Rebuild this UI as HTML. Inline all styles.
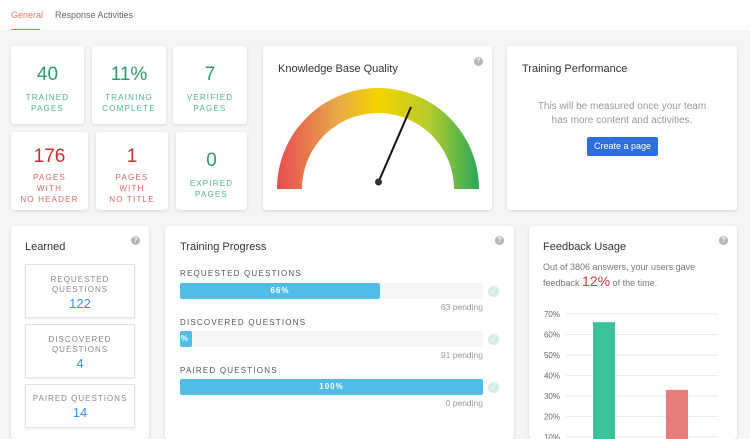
<!DOCTYPE html>
<html><head><meta charset="utf-8">
<style>
*{box-sizing:border-box;margin:0;padding:0}
html,body{width:750px;height:439px;overflow:hidden}
body{background:#f4f5f5;font-family:"Liberation Sans",sans-serif;position:relative}
.abs{position:absolute}
.card{position:absolute;background:#fff;border-radius:3px;box-shadow:0 1px 3px rgba(0,0,0,.12)}
.stat{text-align:center}
.num{font-size:19px;margin-top:18px}
.lbl{font-size:8px;letter-spacing:1.2px;line-height:11px;margin-top:6px}
.g{color:#2a9d6f}.r{color:#cc2e2e}.rl{color:#d96a6a}.gl{color:#4bb58e}
.title{font-size:11px;color:#333}
.help{position:absolute;width:9px;height:9px;border-radius:50%;background:#b5b5b5;color:#fff;font-size:7px;text-align:center;line-height:9px;font-weight:bold}
.qbox{position:absolute;left:14px;width:110px;border:1px solid #e3e3e3;box-shadow:0 1px 2px rgba(0,0,0,.08);text-align:center;font-size:8px;letter-spacing:1px;color:#888;line-height:10px}
.qbox b{display:block;font-weight:normal;color:#3a8ee6;font-size:13px;letter-spacing:0;margin-top:4px}
.plabel{position:absolute;left:15px;font-size:8px;letter-spacing:1.2px;color:#555}
.track{position:absolute;left:15px;width:303px;height:16px;background:#f4f5f5;border-radius:2px}
.fill{height:16px;background:#4fbde6;border-radius:2px;color:#fff;font-size:8px;font-weight:bold;text-align:center;line-height:16px;letter-spacing:1px;overflow:hidden}
.pend{position:absolute;right:31px;font-size:8.5px;color:#999}
.chk{position:absolute;left:323px;width:11px;height:11px;border-radius:50%;background:#d3efe4;color:#fff;font-size:8px;text-align:center;line-height:11px}
</style></head><body>
<div class="abs" style="left:0;top:0;width:750px;height:30px;background:#fff"></div>
<div class="abs" style="left:11px;top:10px;font-size:9px;color:#f07a60">General</div>
<div class="abs" style="left:11px;top:29px;width:29px;height:1px;background:#f07a60"></div>
<div class="abs" style="left:55px;top:10px;font-size:9px;color:#666">Response Activities</div>

<div class="card stat" style="left:11px;top:46px;width:73px;height:78px"><div class="num g">40</div><div class="lbl gl">TRAINED<br>PAGES</div></div>
<div class="card stat" style="left:92px;top:46px;width:74px;height:78px"><div class="num g">11%</div><div class="lbl gl">TRAINING<br>COMPLETE</div></div>
<div class="card stat" style="left:173px;top:46px;width:74px;height:78px"><div class="num g">7</div><div class="lbl gl">VERIFIED<br>PAGES</div></div>
<div class="card stat" style="left:11px;top:132px;width:77px;height:78px"><div class="num r" style="margin-top:14px">176</div><div class="lbl rl" style="margin-top:4px">PAGES<br>WITH<br>NO HEADER</div></div>
<div class="card stat" style="left:96px;top:132px;width:72px;height:78px"><div class="num r" style="margin-top:14px">1</div><div class="lbl rl" style="margin-top:4px">PAGES<br>WITH<br>NO TITLE</div></div>
<div class="card stat" style="left:176px;top:132px;width:71px;height:78px"><div class="num g">0</div><div class="lbl gl">EXPIRED<br>PAGES</div></div>

<div class="card" style="left:263px;top:46px;width:229px;height:164px">
<div class="title abs" style="left:15px;top:17px">Knowledge Base Quality</div>
<div class="help" style="left:211px;top:11px">?</div>
<svg class="abs" style="left:0;top:0" width="229" height="164">
<defs><linearGradient id="gg" x1="0" x2="1" y1="0" y2="0"><stop offset="0" stop-color="#e84c50"/><stop offset=".3" stop-color="#e8a84a"/><stop offset=".5" stop-color="#f5d400"/><stop offset=".75" stop-color="#b8cc2a"/><stop offset="1" stop-color="#27a85a"/></linearGradient></defs>
<path d="M14,143 A101,101 0 0 1 216,143 L191,143 A76,76 0 0 0 39,143 Z" fill="url(#gg)"/>
<line x1="115.5" y1="136" x2="148" y2="61" stroke="#111" stroke-width="2"/>
<circle cx="115.5" cy="136" r="3.5" fill="#333"/>
</svg></div>

<div class="card" style="left:507px;top:46px;width:230px;height:164px">
<div class="title abs" style="left:15px;top:17px">Training Performance</div>
<div class="abs" style="left:0;width:230px;top:54px;text-align:center;font-size:10px;color:#999;line-height:14px">This will be measured once your team<br>has more content and activities.</div>
<div class="abs" style="left:80px;top:91px;width:71px;height:19px;background:#2d6fdc;border-radius:2px;color:#fff;font-size:9px;text-align:center;line-height:19px">Create a page</div>
</div>

<div class="card" style="left:11px;top:226px;width:138px;height:213px">
<div class="title abs" style="left:14px;top:15px">Learned</div>
<div class="help" style="left:120px;top:10px">?</div>
<div class="qbox" style="top:38px;height:54px;padding-top:10px">REQUESTED<br>QUESTIONS<b>122</b></div>
<div class="qbox" style="top:98px;height:54px;padding-top:10px">DISCOVERED<br>QUESTIONS<b>4</b></div>
<div class="qbox" style="top:158px;height:44px;padding-top:9px">PAIRED QUESTIONS<b>14</b></div>
</div>

<div class="card" style="left:165px;top:226px;width:349px;height:213px">
<div class="title abs" style="left:15px;top:15px">Training Progress</div>
<div class="help" style="left:330px;top:10px">?</div>
<div class="plabel" style="top:43px">REQUESTED QUESTIONS</div>
<div class="track" style="top:57px"><div class="fill" style="width:66%">66%</div></div>
<div class="chk" style="top:60px">✓</div>
<div class="pend" style="top:76px">63 pending</div>
<div class="plabel" style="top:92px">DISCOVERED QUESTIONS</div>
<div class="track" style="top:105px"><div class="fill" style="width:4%;text-indent:-8px">4%</div></div>
<div class="chk" style="top:108px">✓</div>
<div class="pend" style="top:124px">91 pending</div>
<div class="plabel" style="top:140px">PAIRED QUESTIONS</div>
<div class="track" style="top:153px"><div class="fill" style="width:100%">100%</div></div>
<div class="chk" style="top:156px">✓</div>
<div class="pend" style="top:172px">0 pending</div>
</div>

<div class="card" style="left:529px;top:226px;width:208px;height:213px">
<div class="title abs" style="left:14px;top:15px">Feedback Usage</div>
<div class="help" style="left:190px;top:10px">?</div>
<div class="abs" style="left:14px;top:34px;font-size:9px;color:#777;line-height:14px;width:180px">Out of 3806 answers, your users gave feedback <span style="color:#dd3b3b;font-size:14px">12%</span> of the time.</div>
</div>
<svg id="chart" class="abs" style="left:529px;top:300px" width="208" height="139"></svg>
<script>
const ticks=[10,20,30,40,50,60,70];
const tickLabels=["10%","20%","30%","40%","50%","60%","70%"];
const categories=["positive","negative"];
const values=[66,33];
const colors=["#3cc29b","#e87d7b"];
const svg=document.getElementById('chart');
const NS='http://www.w3.org/2000/svg';
function y(v){return 14+(70-v)*2.05;}
function x(i){return 64+i*73;}
ticks.forEach((t,i)=>{
 const l=document.createElementNS(NS,'line');
 l.setAttribute('x1',37);l.setAttribute('x2',189);l.setAttribute('y1',y(t));l.setAttribute('y2',y(t));
 l.setAttribute('stroke','#eaeaea');
 
 
 svg.appendChild(l);
 const tx=document.createElementNS(NS,'text');
 tx.setAttribute('x',31);tx.setAttribute('y',y(t)+3);tx.setAttribute('text-anchor','end');
 tx.setAttribute('font-size','8');tx.setAttribute('fill','#666');tx.setAttribute('font-family','Liberation Sans, sans-serif');
 tx.textContent=tickLabels[i];
 
 
 svg.appendChild(tx);
});
values.forEach((v,i)=>{
 const r=document.createElementNS(NS,'rect');
 r.setAttribute('x',x(i));r.setAttribute('width',22);r.setAttribute('y',y(v));r.setAttribute('height',Math.max(0,139-y(v)));
 r.setAttribute('fill',colors[i]);
 
 
 svg.appendChild(r);
});
</script>
</body></html>
